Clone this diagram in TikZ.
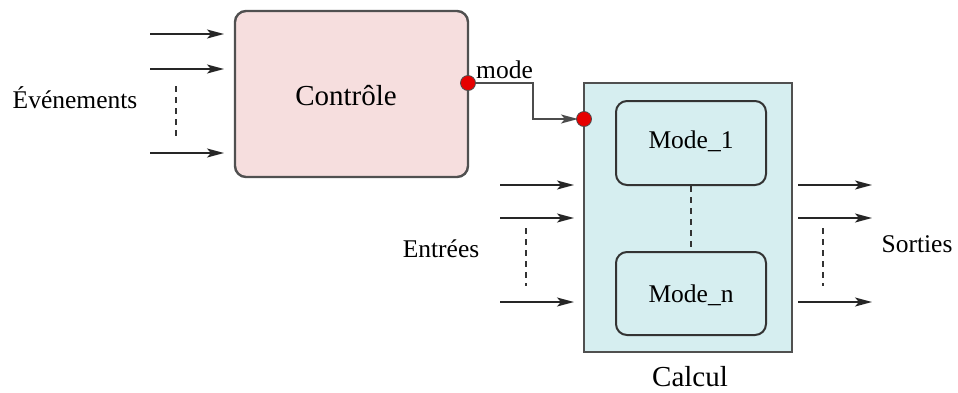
\documentclass[tikz,border=0pt]{standalone}
\usepackage{fontspec}
\setmainfont{Liberation Serif}
\newfontfamily\tms{Liberation Serif}
\usetikzlibrary{arrows.meta}
\definecolor{ctrlfill}{RGB}{246,222,222}
\definecolor{calcfill}{RGB}{214,238,240}
\definecolor{edge}{RGB}{80,80,80}
\definecolor{dotred}{RGB}{230,0,0}
\begin{document}
\begin{tikzpicture}[x=1pt,y=-1pt,
  arr/.style={-{Stealth[length=17pt,width=9pt,inset=4pt]},line width=1.8pt,black!85},
  dashv/.style={dash pattern=on 6pt off 5pt,line width=1.8pt,black!80},
  lbl/.style={font=\tms\fontsize{25.5}{28}\selectfont,inner sep=0pt},
  big/.style={font=\tms\fontsize{29}{32}\selectfont,inner sep=0pt},
  port/.style={circle,fill=dotred,draw=black!70,line width=0.8pt,minimum size=15pt,inner sep=0pt}]
\useasboundingbox (0,0) rectangle (958,392);
% Controle
\draw[fill=ctrlfill,draw=edge,line width=2.4pt,rounded corners=11pt] (235,11) rectangle (468,177);
\node[big] (ctrl) at (346,96) {Contrôle};
\coordinate (ce) at (468,83);
% Calcul
\draw[fill=calcfill,draw=edge,line width=2.4pt] (584,83) rectangle (792,352);
\draw[fill=calcfill,draw=black!80,line width=2pt,rounded corners=11pt] (616,101) rectangle (766,185);
\draw[fill=calcfill,draw=black!80,line width=2pt,rounded corners=11pt] (616,252) rectangle (766,335);
\node[lbl] (m1) at (691,141) {Mode\_1};
\node[lbl] (mn) at (691,295) {Mode\_n};
\coordinate (m1b) at (691,186);
\coordinate (mnt) at (691,251);
\draw[dashv] (m1b) -- (mnt);
\node[big] (calc) at (690,377) {Calcul};
% events
\foreach \y/\n in {34/a,69/b,153/c}{
  \coordinate (es\n) at (150,\y);
  \coordinate (ee\n) at (224,\y);
  \draw[arr] (es\n) -- (ee\n);
}
\coordinate (ed1) at (176,86); \coordinate (ed2) at (176,136);
\draw[dashv] (ed1) -- (ed2);
\node[lbl] (ev) at (75,98) {Événements};
% inputs
\foreach \y/\n in {185/a,218/b,302/c}{
  \coordinate (is\n) at (500,\y);
  \coordinate (ie\n) at (574,\y);
  \draw[arr] (is\n) -- (ie\n);
  \coordinate (os\n) at (798,\y);
  \coordinate (oe\n) at (872,\y);
  \draw[arr] (os\n) -- (oe\n);
}
\coordinate (id1) at (526,228); \coordinate (id2) at (526,286);
\draw[dashv] (id1) -- (id2);
\coordinate (od1) at (823,228); \coordinate (od2) at (823,286);
\draw[dashv] (od1) -- (od2);
\node[lbl] (ent) at (441,249) {Entrées};
\node[lbl] (sor) at (917,244) {Sorties};
% mode link
\coordinate (cin) at (584,119);
\draw[arr,draw=black!70,line width=1.6pt] (ce) -- (533,83) -- (533,119) -- ([xshift=-6pt]cin);
\node[port] (p1) at (ce) {};
\node[port] (p2) at (cin) {};
\node[lbl,anchor=south west] (mode) at (476,79) {mode};
\end{tikzpicture}
\end{document}
